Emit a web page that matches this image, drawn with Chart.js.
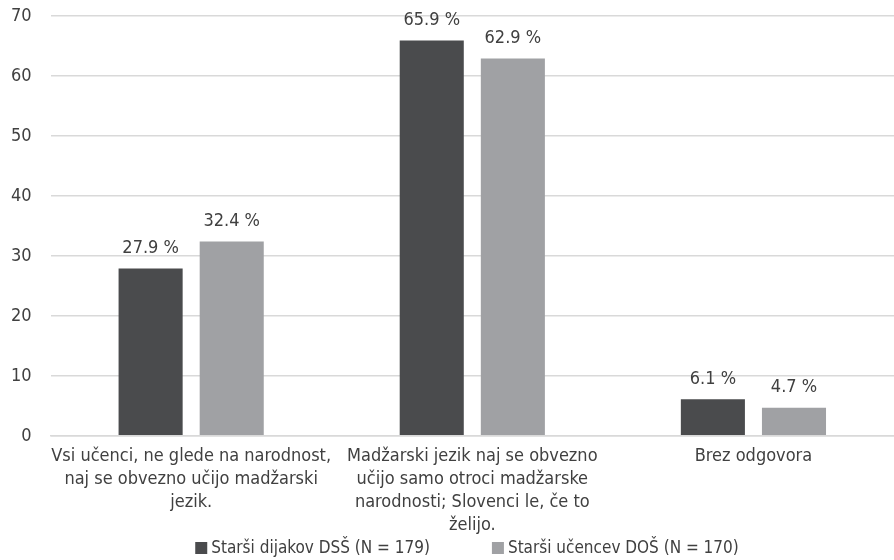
<!DOCTYPE html>
<html lang="sl">
<head>
  <meta charset="UTF-8">
  <title>Mnenja staršev</title>
  <script src="https://cdn.jsdelivr.net/npm/chart.js"></script>
  <style>
    body { margin: 0; background: #fff; }
    .wrap { width: 894px; height: 560px; }
  </style>
</head>
<body>
<div class="wrap">
  <canvas id="chart" width="894" height="560"></canvas>
</div>
<script>
  const categories = [
    ['Vsi učenci, ne glede na narodnost,', 'naj se obvezno učijo madžarski', 'jezik.'],
    ['Madžarski jezik naj se obvezno', 'učijo samo otroci madžarske', 'narodnosti; Slovenci le, če to', 'želijo.'],
    'Brez odgovora'
  ];
  const seriesNames = ['Starši dijakov DSŠ (N = 179)', 'Starši učencev DOŠ (N = 170)'];
  const dijakiDSS = [27.9, 65.9, 6.1];
  const uccenciDOS = [32.4, 62.9, 4.7];
  const yTicks = [0, 10, 20, 30, 40, 50, 60, 70];
  const seriesColors = ['#4a4b4d', '#a0a1a4'];

  const fontFamily = "'DejaVu Sans Condensed', 'DejaVu Sans', sans-serif";
  const textColor = '#404040';

  // value labels above each bar
  const valueLabels = {
    id: 'valueLabels',
    afterDatasetsDraw(chart) {
      const ctx = chart.ctx;
      ctx.save();
      ctx.font = '18px ' + fontFamily;
      ctx.fillStyle = textColor;
      ctx.textAlign = 'center';
      ctx.textBaseline = 'middle';
      chart.data.datasets.forEach((ds, i) => {
        chart.getDatasetMeta(i).data.forEach((bar, j) => {
          ctx.fillText(ds.data[j].toFixed(1) + ' %', bar.x, bar.y - 20);
        });
      });
      ctx.restore();
    }
  };

  // legend at the bottom, wider spacing than the built-in one allows
  const bottomLegend = {
    id: 'bottomLegend',
    afterDraw(chart) {
      const ctx = chart.ctx;
      const box = 12, gap = 4, between = 62, y = 548;
      ctx.save();
      ctx.font = '17px ' + fontFamily;
      ctx.textBaseline = 'middle';
      const widths = chart.data.datasets.map(ds => box + gap + ctx.measureText(ds.label).width);
      const total = widths.reduce((a, b) => a + b, 0) + between * (widths.length - 1);
      let x = (chart.width - total) / 2 + 20;
      chart.data.datasets.forEach((ds, i) => {
        ctx.fillStyle = ds.backgroundColor;
        ctx.fillRect(x, y - box / 2, box, box);
        ctx.fillStyle = textColor;
        ctx.fillText(ds.label, x + box + gap, y + 1);
        x += widths[i] + between;
      });
      ctx.restore();
    }
  };

  new Chart(document.getElementById('chart'), {
    type: 'bar',
    data: {
      labels: categories,
      datasets: [
        { label: seriesNames[0], data: dijakiDSS, backgroundColor: seriesColors[0] },
        { label: seriesNames[1], data: uccenciDOS, backgroundColor: seriesColors[1] }
      ]
    },
    options: {
      responsive: false,
      animation: false,
      layout: { padding: { top: 16, right: 0, left: 11, bottom: 22 } },
      datasets: {
        bar: { categoryPercentage: 0.577, barPercentage: 0.79 }
      },
      scales: {
        y: {
          min: 0,
          max: 70,
          afterBuildTicks(axis) { axis.ticks = yTicks.map(v => ({ value: v })); },
          border: { display: false },
          grid: { color: '#d9d9d9', lineWidth: 1.5, drawTicks: true, tickLength: 19, tickColor: 'rgba(0,0,0,0)' },
          ticks: { color: textColor, font: { family: fontFamily, size: 18 }, padding: 0 }
        },
        x: {
          border: { display: true, color: '#d9d9d9', width: 1.5 },
          grid: { display: false },
          ticks: {
            color: textColor,
            font: { family: fontFamily, size: 18, lineHeight: 1.28 },
            maxRotation: 0,
            autoSkip: false,
            padding: 1
          }
        }
      },
      plugins: {
        legend: { display: false },
        tooltip: { enabled: false }
      }
    },
    plugins: [valueLabels, bottomLegend]
  });
</script>
</body>
</html>
